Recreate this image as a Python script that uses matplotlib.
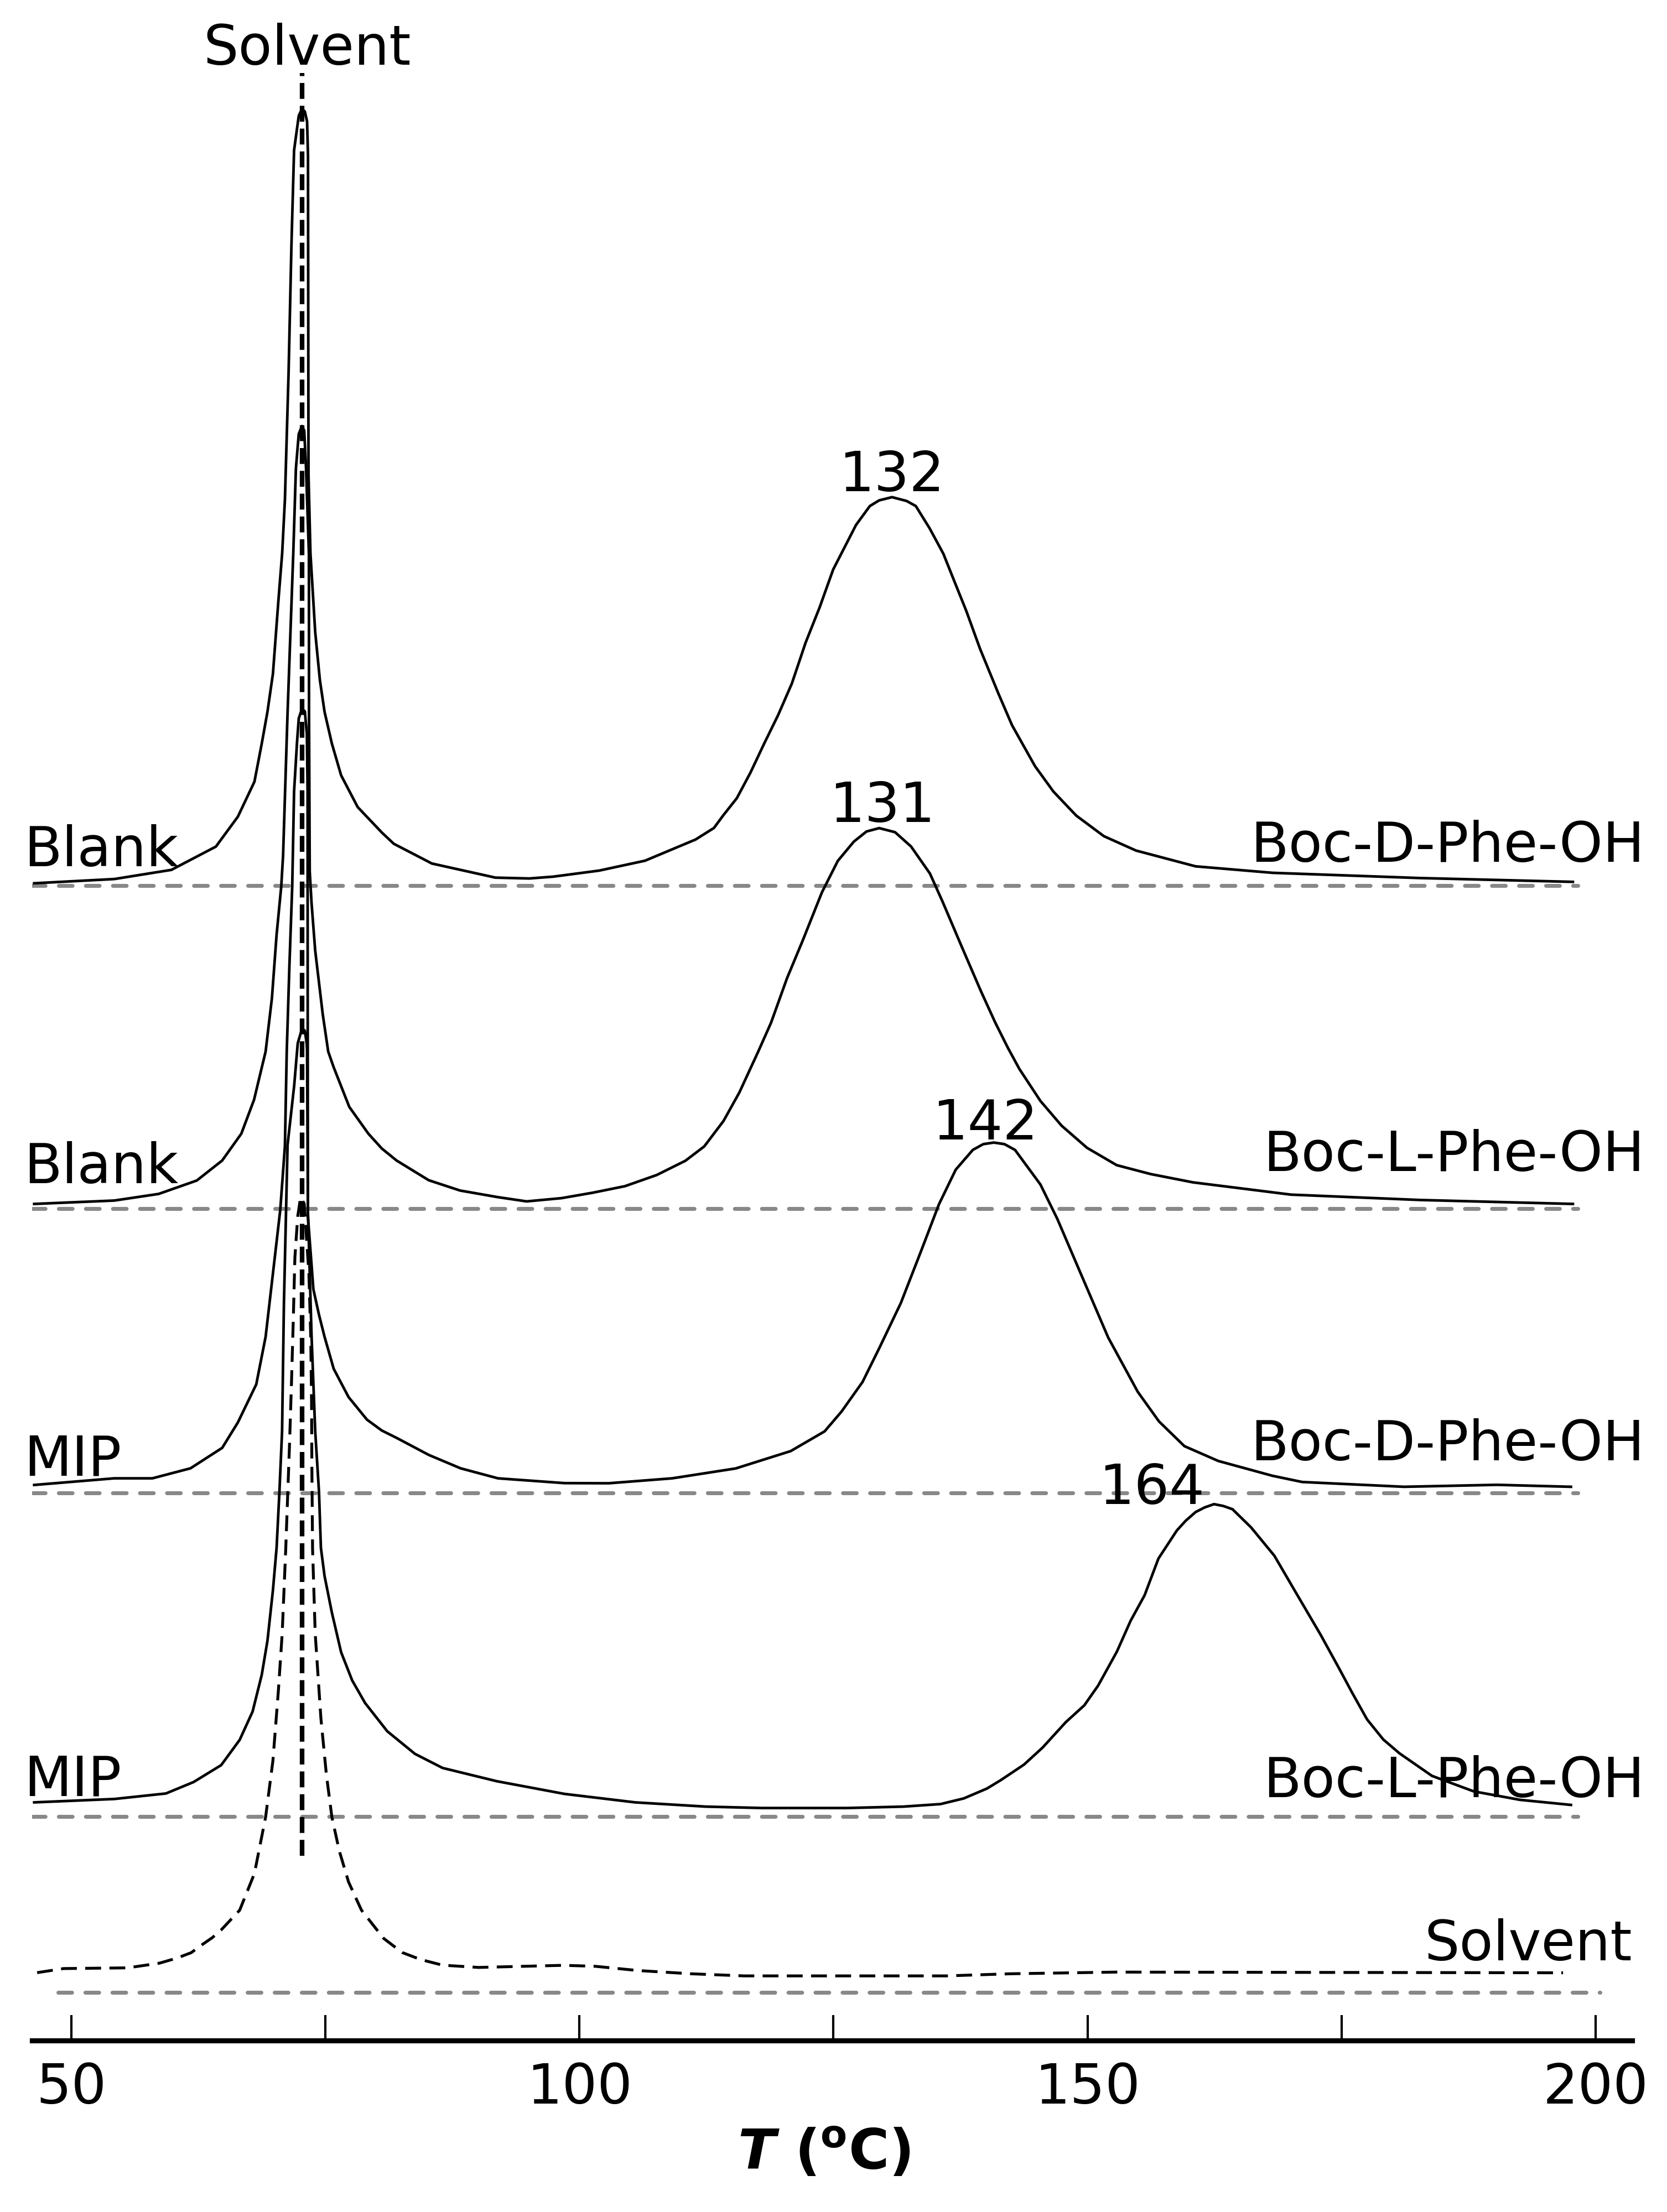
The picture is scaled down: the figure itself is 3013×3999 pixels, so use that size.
import matplotlib.pyplot as plt

plt.rcParams['font.family'] = ['DejaVu Sans']

# %% traces: T (degC) and response above own baseline (a.u.)
blank_d_T = [46.36, 54.24, 59.86, 64.24, 66.40, 68.03, 68.75, 69.31, 69.85, 70.39, 70.76, 71.03,
             71.39, 71.67, 71.93, 72.39, 72.71, 72.99, 73.21, 73.30, 73.35, 73.54, 74.01, 74.47,
             74.93, 75.65, 76.56, 78.19, 80.56, 81.74, 85.49, 91.74, 95.07, 97.43, 101.96, 106.46,
             111.43, 113.24, 114.14, 115.49, 116.83, 118.18, 119.54, 120.90, 122.26, 123.63, 124.97,
             127.22, 128.58, 129.49, 130.76, 132.19, 133.10, 134.46, 135.81, 136.93, 138.06, 139.42,
             141.22, 142.57, 144.83, 146.64, 148.88, 151.60, 154.76, 160.63, 168.21, 182.71, 197.75]
blank_d_y = [1.5, 4.5, 11, 27.5, 48.7, 73.5, 100.5, 123, 150, 202, 235.5, 273.5,
             363.5, 453.5, 521, 545.5, 550.5, 548.5, 541.5, 517.5, 291.5, 235.5, 179.5, 145.5,
             123, 100.5, 78, 55.5, 37.5, 29.5, 15.5, 5.5, 4.9, 6.2, 10.5, 17.5,
             32.5, 40.7, 49.5, 61.8, 79.9, 100.5, 120.5, 143, 172.1, 196.9, 223.9,
             255.5, 268.9, 272.9, 275.2, 272.5, 268.9, 253.1, 235.1, 214.9, 194.7, 167.7,
             136.1, 113.5, 84.5, 66.5, 49.5, 34.9, 24.7, 13.5, 8.9, 5.2, 2.5]

blank_l_T = [46.36, 54.24, 58.61, 62.36, 64.86, 66.74, 67.99, 69.13, 69.75, 70.21, 70.67, 70.85,
             71.29, 71.85, 72.11, 72.39, 72.71, 72.93, 73.11, 73.39, 73.40, 73.47, 73.65, 74.01,
             74.75, 75.29, 75.81, 77.36, 79.24, 80.56, 82.01, 85.18, 88.26, 91.99, 94.81, 98.24,
             101.35, 104.49, 107.61, 110.43, 112.29, 114.18, 115.74, 117.61, 118.86, 120.43, 121.99,
             123.86, 125.43, 127.00, 128.25, 129.50, 131.06, 132.63, 134.49, 135.75, 137.61, 139.49,
             140.90, 142.15, 143.28, 145.36, 147.44, 149.94, 152.86, 156.19, 160.36, 170.00, 182.69,
             197.75]
blank_l_y = [3.2, 5.6, 10.3, 19.8, 34, 53, 77, 111.2, 149, 194, 228.4, 250.4,
             351.5, 464, 524.4, 549, 554.6, 551.4, 524.4, 464, 351.5, 239, 216.4, 182.7,
             137.7, 111.2, 100.4, 72, 53, 42.5, 34, 20, 12.7, 8, 5, 7.3,
             11.2, 15.8, 23.7, 33.8, 44, 62, 82.2, 111.4, 131.7, 163.2, 190.2,
             224, 246.4, 260, 267.2, 269.6, 266.7, 256.6, 237.4, 217.2, 185.7, 154.3,
             132, 114, 99, 76.2, 58.7, 43, 30.7, 24.4, 18.5, 9.8, 6,
             3.2]

mip_d_T = [46.36, 54.24, 57.99, 61.74, 64.86, 66.40, 68.21, 69.13, 69.85, 70.57, 71.03, 71.21,
           71.47, 71.75, 71.93, 72.21, 72.39, 72.71, 72.99, 73.19, 73.26, 73.27, 73.29, 73.83,
           74.38, 74.93, 75.83, 77.29, 79.10, 80.56, 82.06, 85.18, 88.31, 91.99, 98.54, 102.88,
           109.13, 115.38, 120.79, 124.13, 125.79, 127.86, 129.54, 131.63, 133.71, 135.38, 137.03,
           138.71, 139.74, 140.78, 141.82, 142.86, 145.36, 147.03, 149.11, 152.03, 154.94, 157.03,
           159.53, 162.86, 168.19, 171.11, 181.14, 190.26, 197.56]
mip_d_y = [5.7, 10.4, 10.4, 17.5, 32, 50, 77, 110.7, 155.6, 200.6, 246, 313.2,
           373.5, 430.4, 497.2, 531, 549, 556, 554, 538, 498, 358, 196.2, 144.4,
           126.4, 110.7, 88, 68, 52, 44.3, 38.9, 27, 17.5, 10.4, 7, 6.9,
           10.4, 17.4, 29.7, 43.7, 57.7, 78.7, 103.2, 134.7, 173.2, 204.7, 229.2,
           243.2, 247.3, 248.4, 247.3, 243.2, 218.7, 194.2, 159.2, 110.2, 71.7, 50.7,
           33.2, 22.7, 12.2, 7.8, 4.4, 5.8, 4.4]

mip_l_T = [46.36, 54.24, 59.32, 62.04, 64.76, 66.58, 67.85, 68.75, 69.31, 69.85, 70.21, 70.49,
           70.75, 70.93, 71.29, 71.94, 72.29, 72.71, 72.99, 73.17, 73.21, 73.29, 73.65, 74.01,
           74.38, 74.57, 74.93, 75.65, 76.56, 77.65, 78.92, 81.10, 83.82, 86.54, 91.87, 98.54,
           105.49, 112.43, 117.99, 126.32, 131.88, 135.54, 137.82, 140.10, 141.47, 143.75, 145.57,
           147.85, 149.68, 151.04, 152.88, 154.24, 155.61, 156.97, 158.79, 159.65, 160.63, 161.53,
           162.44, 163.35, 164.26, 166.10, 168.38, 170.65, 172.93, 174.76, 176.04, 177.50, 179.09,
           180.68, 183.88, 187.99, 192.54, 197.56]
mip_l_y = [10, 12.4, 16.3, 24.4, 36.4, 54.3, 74.4, 100.4, 124.5, 160.4, 190.4, 230.4,
           273, 363.2, 476, 518, 548, 558.5, 557, 548, 543.2, 430, 340.7, 273,
           230.4, 190.4, 170.4, 144.5, 116.4, 96.4, 80.4, 60.4, 44.4, 34.4, 25, 16,
           10, 7, 6, 6, 7, 8.8, 12.8, 19.8, 25.8, 36.8, 48.8,
           66.8, 78.8, 92.8, 116.8, 138.8, 156.8, 182.8, 202.8, 209.6, 215.8, 219.1,
           221.4, 220.1, 217.8, 204.8, 184.8, 156.8, 128.8, 104.8, 87.6, 68.8, 54.6,
           44.8, 28.8, 17.8, 11.8, 8.2]

solvent_T = [46.65, 49.26, 55.54, 58.67, 60.40, 61.82, 62.58, 63.90, 64.76, 66.58, 68.03, 69.13,
             69.85, 70.39, 70.76, 71.11, 71.47, 71.67, 71.85, 72.01, 72.29, 72.57, 72.93, 73.39,
             73.57, 73.65, 73.68, 73.75, 74.01, 74.57, 75.11, 75.65, 76.38, 77.29, 78.56, 80.74,
             82.56, 84.38, 86.54, 90.07, 98.43, 101.57, 105.76, 110.99, 116.22, 136.10, 142.38,
             152.85, 196.78]
solvent_y = [14.1, 17, 17.5, 20.8, 24.4, 28.3, 32.4, 39, 44.4, 58.4, 84.4, 124.4,
             164.4, 214.4, 254.4, 314.4, 386, 431, 476, 521, 550.2, 563.7, 559.2, 509.6,
             464.7, 419.6, 374.6, 314.4, 254.4, 194.4, 154.4, 124.4, 100.4, 78.4, 58.4, 38.4,
             28.4, 23.4, 19.4, 17.8, 19.3, 18.6, 15.6, 13.3, 11.8, 11.8, 13.3,
             14.5, 14]

column_labels = ['Blank', 'Blank', 'MIP', 'MIP']
analyte_labels = ['Boc-D-Phe-OH', 'Boc-L-Phe-OH', 'Boc-D-Phe-OH', 'Boc-L-Phe-OH']
peak_labels = ['132', '131', '142', '164']
solvent_peak_T = 72.7

# %% layout
fig = plt.figure(figsize=(3013 / 300, 3999 / 300), dpi=300)
ax = fig.add_axes([0.0191, 0.0774, 0.9600, 0.9226])
ax.set_xlim(46.13, 203.58)
ax.set_ylim(0, 1446.6)

offsets = [819.0, 590.0, 388.3, 159.0]
solvent_offset = 34.2
left_dy = [13.6, 18.1, 12.3, 14.6]
right_dy = [16.6, 26.6, 23.3, 13.6]
peak_pos = [(130.7, 279.6), (129.8, 274.1), (139.9, 250.5), (156.3, 221.6)]
fs = 24

gray = dict(color='#888888', lw=1.7, dashes=(3.5, 3.4), dash_capstyle='round', zorder=1)

traces = [(blank_d_T, blank_d_y), (blank_l_T, blank_l_y),
          (mip_d_T, mip_d_y), (mip_l_T, mip_l_y)]

for i, (T, y) in enumerate(traces):
    off = offsets[i]
    ax.plot([46.11, 198.24], [off, off], **gray)
    ax.plot(T, [off + v for v in y], color='black', lw=1.15, zorder=2)
    ax.text(45.35, off + left_dy[i], column_labels[i], fontsize=fs,
            ha='left', va='baseline', clip_on=False)
    ax.text(204.8, off + right_dy[i], analyte_labels[i], fontsize=fs,
            ha='right', va='baseline', clip_on=False)
    px, py = peak_pos[i]
    ax.text(px, off + py, peak_labels[i], fontsize=fs, ha='center', va='baseline')

# solvent blank run
ax.plot([48.74, 200.43], [solvent_offset, solvent_offset], **gray)
ax.plot(solvent_T, [solvent_offset + v for v in solvent_y], color='black', lw=1.25,
        dashes=(5.5, 2.9), zorder=2)
ax.text(203.56, solvent_offset + 22.8, 'Solvent', fontsize=fs, ha='right', va='baseline')

# solvent peak marker
ax.plot([solvent_peak_T, solvent_peak_T], [131, 1395], color='black', lw=2.0,
        dashes=(3.45, 1.5), zorder=3)
ax.text(73.2, 1400.7, 'Solvent', fontsize=fs, ha='center', va='baseline')

for side in ['left', 'right', 'top']:
    ax.spines[side].set_visible(False)
ax.spines['bottom'].set_linewidth(2.2)
ax.set_yticks([])
ax.set_xticks([50, 100, 150, 200])
ax.set_xticks([75, 125, 175], minor=True)
ax.tick_params(axis='x', which='both', direction='in', length=11, width=1.0,
               pad=9, labelsize=fs)

ax.text(124.07, -61.4, r'$\mathbfit{T}$ ($^{\mathbf{o}}$C)', fontsize=24,
        fontweight='bold', ha='center', va='top', clip_on=False)

fig.savefig('out.png', dpi=300)
